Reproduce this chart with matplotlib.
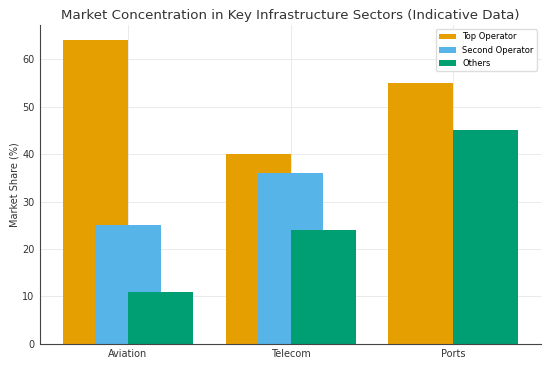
import numpy as np
import matplotlib.pyplot as plt

sectors = ['Aviation', 'Telecom', 'Ports']
top_operator = [64, 40, 55]
second_operator = [25, 36, 0]
others = [11, 24, 45]

colors = ['#E69F00', '#56B4E9', '#009E73']

fig, ax = plt.subplots(figsize=(5.5, 3.67), dpi=100)

x = np.arange(len(sectors))
w = 0.4
ax.bar(x - 0.2, top_operator, w, color=colors[0], label='Top Operator', zorder=2)
ax.bar(x, second_operator, w, color=colors[1], label='Second Operator', zorder=2)
ax.bar(x + 0.2, others, w, color=colors[2], label='Others', zorder=2)

ax.set_xticks(x)
ax.set_xticklabels(sectors, fontsize=7, color='#333333')
ax.tick_params(axis='y', labelsize=7, labelcolor='#333333', length=0, pad=4)
ax.tick_params(axis='x', length=0, pad=4)
ax.set_ylabel('Market Share (%)', fontsize=7, color='#333333', labelpad=2)
ax.set_title('Market Concentration in Key Infrastructure Sectors (Indicative Data)',
             fontsize=9.6, color='#333333', pad=4)

ax.grid(True, color='#e6e6e6', linewidth=0.6, zorder=0)
for s in ['top', 'right']:
    ax.spines[s].set_visible(False)
for s in ['left', 'bottom']:
    ax.spines[s].set_color('#444444')
    ax.spines[s].set_linewidth(0.8)

ax.legend(fontsize=6, loc='upper right', framealpha=1, edgecolor='#dddddd')

plt.subplots_adjust(left=0.073, right=0.984, top=0.932, bottom=0.063)
plt.savefig('out.png', dpi=100)
